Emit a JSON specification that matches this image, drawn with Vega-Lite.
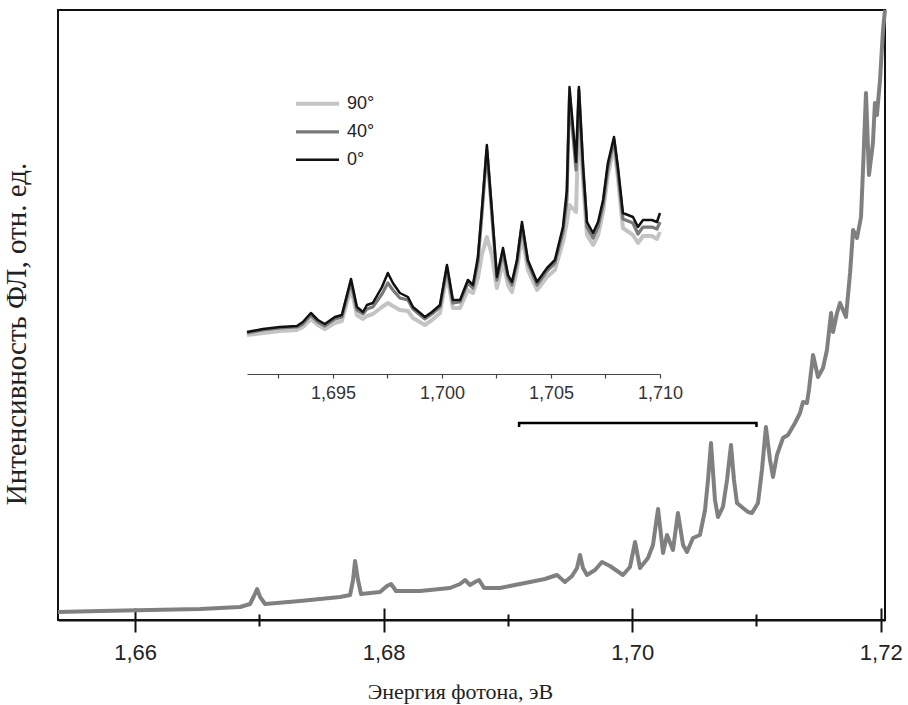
{
  "$schema": "https://vega.github.io/schema/vega-lite/v6.json",
  "width": 827,
  "height": 610,
  "autosize": {"type": "none"},
  "padding": {"left": 58, "top": 10, "right": 23, "bottom": 85},
  "background": "white",
  "title": {
    "text": "Интенсивность ФЛ, отн. ед.", "orient": "left", "anchor": "middle", "frame": "group",
    "font": "Liberation Serif", "fontSize": 29, "fontWeight": "normal", "color": "#222",
    "baseline": "alphabetic", "offset": 1, "dx": -19
  },
  "config": {
    "view": {"stroke": "#111", "strokeWidth": 2},
    "axis": {"grid": false, "labelFont": "Liberation Sans", "titleFont": "Liberation Serif", "titleFontWeight": "normal"},
    "legend": {"labelFont": "Liberation Sans"}
  },
  "datasets": {
    "main": [
      {"E":1.6538,"I":8},{"E":1.65718,"I":9},{"E":1.66121,"I":10},{"E":1.66523,"I":11},{"E":1.66845,"I":13},
      {"E":1.66925,"I":16},{"E":1.66957,"I":24},{"E":1.66982,"I":31},{"E":1.67006,"I":23},{"E":1.67046,"I":16},
      {"E":1.67327,"I":19},{"E":1.67649,"I":23},{"E":1.6773,"I":25},{"E":1.67754,"I":40},{"E":1.6777,"I":59},
      {"E":1.67794,"I":40},{"E":1.67818,"I":26},{"E":1.67971,"I":28},{"E":1.68027,"I":34},{"E":1.6806,"I":36},
      {"E":1.681,"I":29},{"E":1.68293,"I":29},{"E":1.68534,"I":32},{"E":1.68615,"I":36},{"E":1.68655,"I":40},
      {"E":1.68695,"I":35},{"E":1.68735,"I":38},{"E":1.68768,"I":40},{"E":1.68808,"I":32},{"E":1.68936,"I":32},
      {"E":1.69138,"I":37},{"E":1.69298,"I":41},{"E":1.69395,"I":45},{"E":1.69459,"I":38},{"E":1.69516,"I":44},
      {"E":1.69556,"I":52},{"E":1.6958,"I":65},{"E":1.69604,"I":52},{"E":1.69636,"I":45},{"E":1.69701,"I":50},
      {"E":1.69757,"I":58},{"E":1.69821,"I":54},{"E":1.69926,"I":45},{"E":1.69982,"I":53},{"E":1.70023,"I":78},
      {"E":1.70063,"I":52},{"E":1.70127,"I":62},{"E":1.70167,"I":75},{"E":1.70208,"I":111},{"E":1.70248,"I":67},
      {"E":1.7028,"I":85},{"E":1.70328,"I":70},{"E":1.70368,"I":107},{"E":1.70409,"I":75},{"E":1.70441,"I":68},
      {"E":1.70489,"I":82},{"E":1.70545,"I":85},{"E":1.70586,"I":110},{"E":1.7061,"I":140},{"E":1.70634,"I":177},
      {"E":1.70666,"I":120},{"E":1.7069,"I":103},{"E":1.7073,"I":113},{"E":1.70763,"I":140},{"E":1.70795,"I":175},
      {"E":1.70819,"I":140},{"E":1.70843,"I":117},{"E":1.70891,"I":112},{"E":1.70932,"I":108},{"E":1.70964,"I":107},
      {"E":1.71012,"I":117},{"E":1.71044,"I":150},{"E":1.71076,"I":193},{"E":1.71109,"I":160},{"E":1.71133,"I":143},
      {"E":1.71165,"I":165},{"E":1.71213,"I":182},{"E":1.71253,"I":185},{"E":1.7131,"I":197},{"E":1.7135,"I":207},
      {"E":1.71374,"I":218},{"E":1.71406,"I":217},{"E":1.71422,"I":230},{"E":1.71455,"I":265},{"E":1.71495,"I":243},
      {"E":1.71535,"I":252},{"E":1.71567,"I":270},{"E":1.716,"I":307},{"E":1.71616,"I":288},{"E":1.71648,"I":307},
      {"E":1.71672,"I":317},{"E":1.7172,"I":303},{"E":1.71753,"I":347},{"E":1.71777,"I":390},{"E":1.71809,"I":382},
      {"E":1.71841,"I":403},{"E":1.71857,"I":450},{"E":1.71881,"I":527},{"E":1.71905,"I":445},{"E":1.71937,"I":477},
      {"E":1.71953,"I":517},{"E":1.71969,"I":505},{"E":1.71994,"I":540},{"E":1.72018,"I":590},{"E":1.72034,"I":610}
    ],
    "bracket": [
      {"E":1.6909,"I":193,"k":1},{"E":1.6909,"I":197,"k":2},{"E":1.71,"I":197,"k":3},{"E":1.71,"I":193,"k":4}
    ],
    "inset": [
      {"E":1.69106,"J":5,"angle":"90°"},{"E":1.69179,"J":7,"angle":"90°"},{"E":1.69257,"J":9,"angle":"90°"},{"E":1.69335,"J":10,"angle":"90°"},
      {"E":1.69362,"J":13,"angle":"90°"},{"E":1.69399,"J":21,"angle":"90°"},{"E":1.69431,"J":15,"angle":"90°"},{"E":1.69463,"J":11,"angle":"90°"},
      {"E":1.69509,"J":17,"angle":"90°"},{"E":1.69541,"J":19,"angle":"90°"},{"E":1.69583,"J":52,"angle":"90°"},{"E":1.6961,"J":25,"angle":"90°"},
      {"E":1.69638,"J":21,"angle":"90°"},{"E":1.69656,"J":24,"angle":"90°"},{"E":1.69683,"J":26,"angle":"90°"},{"E":1.69725,"J":33,"angle":"90°"},
      {"E":1.69752,"J":37,"angle":"90°"},{"E":1.69775,"J":34,"angle":"90°"},{"E":1.69807,"J":30,"angle":"90°"},{"E":1.69844,"J":29,"angle":"90°"},
      {"E":1.69867,"J":22,"angle":"90°"},{"E":1.69922,"J":15,"angle":"90°"},{"E":1.69954,"J":20,"angle":"90°"},{"E":1.69991,"J":27,"angle":"90°"},
      {"E":1.70023,"J":66,"angle":"90°"},{"E":1.7005,"J":32,"angle":"90°"},{"E":1.70083,"J":32,"angle":"90°"},{"E":1.70119,"J":50,"angle":"90°"},
      {"E":1.70142,"J":47,"angle":"90°"},{"E":1.70165,"J":62,"angle":"90°"},{"E":1.70183,"J":85,"angle":"90°"},{"E":1.70206,"J":103,"angle":"90°"},
      {"E":1.70229,"J":85,"angle":"90°"},{"E":1.70252,"J":52,"angle":"90°"},{"E":1.7028,"J":78,"angle":"90°"},{"E":1.70303,"J":55,"angle":"90°"},
      {"E":1.70321,"J":48,"angle":"90°"},{"E":1.70344,"J":70,"angle":"90°"},{"E":1.70367,"J":105,"angle":"90°"},{"E":1.70394,"J":70,"angle":"90°"},
      {"E":1.70436,"J":50,"angle":"90°"},{"E":1.70482,"J":63,"angle":"90°"},{"E":1.70518,"J":70,"angle":"90°"},{"E":1.70555,"J":98,"angle":"90°"},
      {"E":1.70573,"J":118,"angle":"90°"},{"E":1.70585,"J":135,"angle":"90°"},{"E":1.70615,"J":128,"angle":"90°"},{"E":1.70628,"J":230,"angle":"90°"},
      {"E":1.70647,"J":160,"angle":"90°"},{"E":1.70665,"J":105,"angle":"90°"},{"E":1.70693,"J":95,"angle":"90°"},{"E":1.70716,"J":105,"angle":"90°"},
      {"E":1.70739,"J":128,"angle":"90°"},{"E":1.70761,"J":165,"angle":"90°"},{"E":1.70789,"J":195,"angle":"90°"},{"E":1.70807,"J":162,"angle":"90°"},
      {"E":1.7083,"J":112,"angle":"90°"},{"E":1.70876,"J":105,"angle":"90°"},{"E":1.70899,"J":97,"angle":"90°"},{"E":1.70922,"J":104,"angle":"90°"},
      {"E":1.70963,"J":104,"angle":"90°"},{"E":1.70986,"J":101,"angle":"90°"},{"E":1.71,"J":108,"angle":"90°"},

      {"E":1.69106,"J":7,"angle":"40°"},{"E":1.69179,"J":10,"angle":"40°"},{"E":1.69257,"J":12,"angle":"40°"},{"E":1.69335,"J":13,"angle":"40°"},
      {"E":1.69362,"J":16,"angle":"40°"},{"E":1.69399,"J":25,"angle":"40°"},{"E":1.69431,"J":18,"angle":"40°"},{"E":1.69463,"J":14,"angle":"40°"},
      {"E":1.69509,"J":21,"angle":"40°"},{"E":1.69541,"J":23,"angle":"40°"},{"E":1.69583,"J":58,"angle":"40°"},{"E":1.6961,"J":30,"angle":"40°"},
      {"E":1.69638,"J":26,"angle":"40°"},{"E":1.69656,"J":31,"angle":"40°"},{"E":1.69683,"J":33,"angle":"40°"},{"E":1.69725,"J":46,"angle":"40°"},
      {"E":1.69752,"J":57,"angle":"40°"},{"E":1.69775,"J":50,"angle":"40°"},{"E":1.69807,"J":42,"angle":"40°"},{"E":1.69844,"J":40,"angle":"40°"},
      {"E":1.69867,"J":31,"angle":"40°"},{"E":1.69922,"J":21,"angle":"40°"},{"E":1.69954,"J":26,"angle":"40°"},{"E":1.69991,"J":33,"angle":"40°"},
      {"E":1.70023,"J":72,"angle":"40°"},{"E":1.7005,"J":37,"angle":"40°"},{"E":1.70083,"J":38,"angle":"40°"},{"E":1.70119,"J":57,"angle":"40°"},
      {"E":1.70142,"J":52,"angle":"40°"},{"E":1.70165,"J":78,"angle":"40°"},{"E":1.70183,"J":125,"angle":"40°"},{"E":1.70206,"J":190,"angle":"40°"},
      {"E":1.70229,"J":125,"angle":"40°"},{"E":1.70252,"J":60,"angle":"40°"},{"E":1.7028,"J":88,"angle":"40°"},{"E":1.70303,"J":62,"angle":"40°"},
      {"E":1.70321,"J":55,"angle":"40°"},{"E":1.70344,"J":77,"angle":"40°"},{"E":1.70367,"J":114,"angle":"40°"},{"E":1.70394,"J":77,"angle":"40°"},
      {"E":1.70436,"J":55,"angle":"40°"},{"E":1.70482,"J":69,"angle":"40°"},{"E":1.70518,"J":77,"angle":"40°"},{"E":1.70555,"J":108,"angle":"40°"},
      {"E":1.70573,"J":140,"angle":"40°"},{"E":1.70585,"J":245,"angle":"40°"},{"E":1.70615,"J":170,"angle":"40°"},{"E":1.70628,"J":250,"angle":"40°"},
      {"E":1.70647,"J":170,"angle":"40°"},{"E":1.70665,"J":113,"angle":"40°"},{"E":1.70693,"J":102,"angle":"40°"},{"E":1.70716,"J":113,"angle":"40°"},
      {"E":1.70739,"J":135,"angle":"40°"},{"E":1.70761,"J":172,"angle":"40°"},{"E":1.70789,"J":200,"angle":"40°"},{"E":1.70807,"J":168,"angle":"40°"},
      {"E":1.7083,"J":121,"angle":"40°"},{"E":1.70876,"J":117,"angle":"40°"},{"E":1.70899,"J":106,"angle":"40°"},{"E":1.70922,"J":113,"angle":"40°"},
      {"E":1.70963,"J":113,"angle":"40°"},{"E":1.70986,"J":111,"angle":"40°"},{"E":1.71,"J":118,"angle":"40°"},

      {"E":1.69106,"J":8,"angle":"0°"},{"E":1.69179,"J":11,"angle":"0°"},{"E":1.69257,"J":13,"angle":"0°"},{"E":1.69335,"J":14,"angle":"0°"},
      {"E":1.69362,"J":18,"angle":"0°"},{"E":1.69399,"J":27,"angle":"0°"},{"E":1.69431,"J":20,"angle":"0°"},{"E":1.69463,"J":16,"angle":"0°"},
      {"E":1.69509,"J":23,"angle":"0°"},{"E":1.69541,"J":25,"angle":"0°"},{"E":1.69583,"J":61,"angle":"0°"},{"E":1.6961,"J":33,"angle":"0°"},
      {"E":1.69638,"J":28,"angle":"0°"},{"E":1.69656,"J":35,"angle":"0°"},{"E":1.69683,"J":37,"angle":"0°"},{"E":1.69725,"J":53,"angle":"0°"},
      {"E":1.69752,"J":67,"angle":"0°"},{"E":1.69775,"J":57,"angle":"0°"},{"E":1.69807,"J":47,"angle":"0°"},{"E":1.69844,"J":43,"angle":"0°"},
      {"E":1.69867,"J":33,"angle":"0°"},{"E":1.69922,"J":23,"angle":"0°"},{"E":1.69954,"J":28,"angle":"0°"},{"E":1.69991,"J":35,"angle":"0°"},
      {"E":1.70023,"J":75,"angle":"0°"},{"E":1.7005,"J":40,"angle":"0°"},{"E":1.70083,"J":40,"angle":"0°"},{"E":1.70119,"J":60,"angle":"0°"},
      {"E":1.70142,"J":55,"angle":"0°"},{"E":1.70165,"J":83,"angle":"0°"},{"E":1.70183,"J":130,"angle":"0°"},{"E":1.70206,"J":195,"angle":"0°"},
      {"E":1.70229,"J":130,"angle":"0°"},{"E":1.70252,"J":63,"angle":"0°"},{"E":1.7028,"J":92,"angle":"0°"},{"E":1.70303,"J":65,"angle":"0°"},
      {"E":1.70321,"J":58,"angle":"0°"},{"E":1.70344,"J":80,"angle":"0°"},{"E":1.70367,"J":118,"angle":"0°"},{"E":1.70394,"J":80,"angle":"0°"},
      {"E":1.70436,"J":58,"angle":"0°"},{"E":1.70482,"J":72,"angle":"0°"},{"E":1.70518,"J":80,"angle":"0°"},{"E":1.70555,"J":113,"angle":"0°"},
      {"E":1.70573,"J":150,"angle":"0°"},{"E":1.70585,"J":253,"angle":"0°"},{"E":1.70615,"J":178,"angle":"0°"},{"E":1.70628,"J":253,"angle":"0°"},
      {"E":1.70647,"J":175,"angle":"0°"},{"E":1.70665,"J":118,"angle":"0°"},{"E":1.70693,"J":107,"angle":"0°"},{"E":1.70716,"J":118,"angle":"0°"},
      {"E":1.70739,"J":140,"angle":"0°"},{"E":1.70761,"J":177,"angle":"0°"},{"E":1.70789,"J":203,"angle":"0°"},{"E":1.70807,"J":173,"angle":"0°"},
      {"E":1.7083,"J":127,"angle":"0°"},{"E":1.70876,"J":123,"angle":"0°"},{"E":1.70899,"J":113,"angle":"0°"},{"E":1.70922,"J":120,"angle":"0°"},
      {"E":1.70963,"J":120,"angle":"0°"},{"E":1.70986,"J":118,"angle":"0°"},{"E":1.71,"J":127,"angle":"0°"}
    ]
  },
  "layer": [
    {
      "layer": [
        {
          "data": {"name": "main"},
          "mark": {"type": "line", "color": "#808080", "strokeWidth": 4, "strokeJoin": "round"},
          "encoding": {
            "x": {
              "field": "E", "type": "quantitative",
              "scale": {"domain": [1.6538, 1.72034], "nice": false, "zero": false},
              "axis": {
                "orient": "bottom",
                "values": [1.66, 1.68, 1.70, 1.72],
                "labelExpr": "replace(format(datum.value, '.2f'), '.', ',')",
                "labelFlush": false, "labelOverlap": false,
                "labelFontSize": 22, "labelColor": "#222", "labelPadding": 10,
                "tickSize": 12, "tickWidth": 2, "tickColor": "#111",
                "domainColor": "#111", "domainWidth": 2,
                "grid": true, "gridColor": "#111", "gridWidth": 2, "gridDash": [0, 598, 12, 100],
                "title": "Энергия фотона, эВ", "titleFontSize": 22, "titleColor": "#222",
                "titleX": 402, "titleY": 78, "titleAlign": "center", "titleBaseline": "alphabetic"
              }
            },
            "y": {
              "field": "I", "type": "quantitative",
              "scale": {"domain": [0, 610], "nice": false, "zero": false},
              "axis": null
            }
          }
        },
        {
          "data": {"name": "bracket"},
          "mark": {"type": "line", "color": "#000", "strokeWidth": 2.5},
          "encoding": {
            "x": {
              "field": "E", "type": "quantitative",
              "axis": {
                "orient": "bottom",
                "values": [1.67, 1.69, 1.71],
                "labels": false, "domain": false, "title": null,
                "tickSize": 6, "tickWidth": 2, "tickColor": "#111",
                "grid": true, "gridColor": "#111", "gridWidth": 2, "gridDash": [0, 604, 6, 100]
              }
            },
            "y": {"field": "I", "type": "quantitative", "axis": null},
            "order": {"field": "k", "type": "quantitative"}
          }
        }
      ],
      "resolve": {"axis": {"x": "independent"}}
    },
    {
      "data": {"name": "inset"},
      "mark": {"type": "line", "strokeJoin": "round"},
      "encoding": {
        "x": {
          "field": "E", "type": "quantitative",
          "scale": {"domain": [1.69106, 1.71], "range": [189, 602], "nice": false, "zero": false},
          "axis": {
            "orient": "bottom", "offset": -246,
            "values": [1.6925, 1.695, 1.6975, 1.70, 1.7025, 1.705, 1.7075, 1.71],
            "labelExpr": "abs(datum.value*200 - round(datum.value*200)) < 0.01 ? replace(format(datum.value, '.3f'), '.', ',') : ''",
            "labelFlush": false, "labelOverlap": false,
            "labelFontSize": 18, "labelColor": "#333", "labelPadding": 6,
            "tickSize": 4, "tickWidth": 1.2, "tickColor": "#444",
            "domainColor": "#444", "domainWidth": 1.2, "title": null
          }
        },
        "y": {
          "field": "J", "type": "quantitative",
          "scale": {"domain": [0, 260], "range": [330, 70], "nice": false, "zero": false},
          "axis": null
        },
        "color": {
          "field": "angle", "type": "nominal",
          "scale": {"domain": ["90°", "40°", "0°"], "range": ["#c4c4c4", "#7a7a7a", "#111111"]},
          "legend": {
            "title": null, "orient": "none", "legendX": 236, "legendY": 80,
            "symbolType": "stroke", "symbolSize": 1849, "labelFontSize": 18, "labelColor": "#222",
            "labelOffset": 6, "padding": 0, "rowPadding": 0, "clipHeight": 27.5
          }
        },
        "strokeWidth": {
          "field": "angle", "type": "nominal",
          "scale": {"domain": ["90°", "40°", "0°"], "range": [4, 2.5, 1.3]},
          "legend": {
            "title": null, "orient": "none", "legendX": 236, "legendY": 80,
            "symbolType": "stroke", "symbolSize": 1849, "labelFontSize": 18, "labelColor": "#222",
            "labelOffset": 6, "padding": 0, "rowPadding": 0, "clipHeight": 27.5
          }
        }
      }
    }
  ],
  "resolve": {"scale": {"x": "independent", "y": "independent"}}
}
